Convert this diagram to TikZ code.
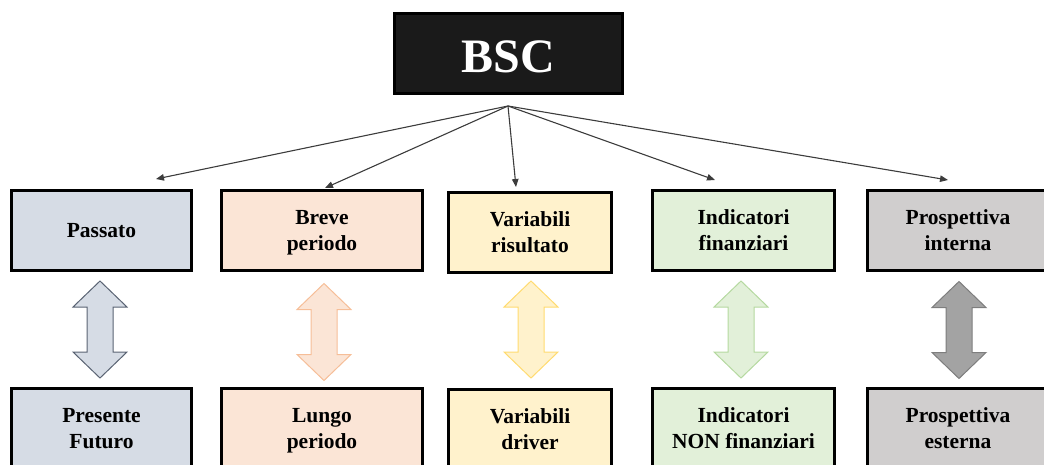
\documentclass[tikz,border=0pt]{standalone}
\usepackage{fontspec}
\setmainfont{Liberation Serif}
\usetikzlibrary{arrows.meta}

\definecolor{bluegray}{HTML}{D6DCE5}
\definecolor{bluegrayline}{HTML}{5A6373}
\definecolor{peach}{HTML}{FBE5D6}
\definecolor{peachline}{HTML}{F6BE98}
\definecolor{cream}{HTML}{FFF2CC}
\definecolor{creamline}{HTML}{FFDB70}
\definecolor{mint}{HTML}{E2F0D9}
\definecolor{mintline}{HTML}{B5D9A0}
\definecolor{stone}{HTML}{D0CECE}
\definecolor{midgray}{HTML}{A3A3A3}
\definecolor{midgrayline}{HTML}{7E7E7E}
\definecolor{ink}{HTML}{1A1A1A}
\definecolor{wire}{HTML}{3C3C3C}

% fixed line boxes so every card centres its lines alike
\newcommand\lstrut{\rule[-5.8pt]{0pt}{26pt}}
\newcommand\twolines[2]{\lstrut#1\\\lstrut#2}

\tikzset{
  card/.style={draw=black, line width=3pt, align=center, inner sep=0pt,
    font=\fontsize{21.5}{26}\selectfont\bfseries, text=black},
  link/.style={draw=wire, line width=1.1pt,
    -{Triangle[length=8pt,width=6.5pt]}},
  updown/.pic={
    \path[pic actions] (0,-48.5) -- (27,-22.5) -- (13,-22.5) -- (13,22.5)
      -- (27,22.5) -- (0,48.5) -- (-27,22.5) -- (-13,22.5) -- (-13,-22.5)
      -- (-27,-22.5) -- cycle;
  }
}

\begin{document}
\begin{tikzpicture}[x=1pt, y=-1pt]
\useasboundingbox (0,0) rectangle (1044,464);

% title block
\node[draw=black, line width=2.5pt, fill=ink, minimum width=228pt, minimum height=80pt,
      text=white, text height=37pt, text depth=0pt,
      font=\fontsize{48}{56}\selectfont\bfseries] (bsc) at (508.5,53.5) {BSC};

% upper row
\node[card, fill=bluegray, minimum width=180pt, minimum height=80pt] (passato) at (101.5,230) {\lstrut Passato};
\node[card, fill=peach, minimum width=201pt, minimum height=80pt] (breve) at (322,230) {\twolines{Breve}{periodo}};
\node[card, fill=cream, minimum width=163pt, minimum height=80pt] (risultato) at (530,232.5) {\twolines{Variabili}{risultato}};
\node[card, fill=mint, minimum width=182pt, minimum height=80pt] (fin) at (743.5,230) {\twolines{Indicatori}{finanziari}};
\node[card, fill=stone, minimum width=181pt, minimum height=80pt] (interna) at (958,230) {\twolines{Prospettiva}{interna}};

% lower row
\node[card, fill=bluegray, minimum width=180pt, minimum height=80pt] (futuro) at (101.5,428) {\twolines{Presente}{Futuro}};
\node[card, fill=peach, minimum width=201pt, minimum height=80pt] (lungo) at (322,428) {\twolines{Lungo}{periodo}};
\node[card, fill=cream, minimum width=163pt, minimum height=80pt] (driver) at (530,429.5) {\twolines{Variabili}{driver}};
\node[card, fill=mint, minimum width=182pt, minimum height=80pt] (nonfin) at (743.5,428) {\twolines{Indicatori}{NON finanziari}};
\node[card, fill=stone, minimum width=181pt, minimum height=80pt] (esterna) at (958,428) {\twolines{Prospettiva}{esterna}};

% fan of connectors from the title block
\coordinate (hub) at (508,106);
\coordinate (toPassato) at (156,179);
\coordinate (toBreve) at (325,188);
\coordinate (toRisultato) at (516,187);
\coordinate (toFin) at (715,180);
\coordinate (toInterna) at (948,180);
\foreach \t in {toPassato,toBreve,toRisultato,toFin,toInterna}
  \draw[link] (hub) -- (\t);

% two-headed block arrows between the rows
\pic[fill=bluegray, draw=bluegrayline, line width=1pt] (a1) at (100,329.5) {updown};
\pic[fill=peach, draw=peachline, line width=1pt] (a2) at (324,332) {updown};
\pic[fill=cream, draw=creamline, line width=1pt] (a3) at (531,329.5) {updown};
\pic[fill=mint, draw=mintline, line width=1pt] (a4) at (741,329.5) {updown};
\pic[fill=midgray, draw=midgrayline, line width=1pt] (a5) at (959,330) {updown};
\end{tikzpicture}
\end{document}
